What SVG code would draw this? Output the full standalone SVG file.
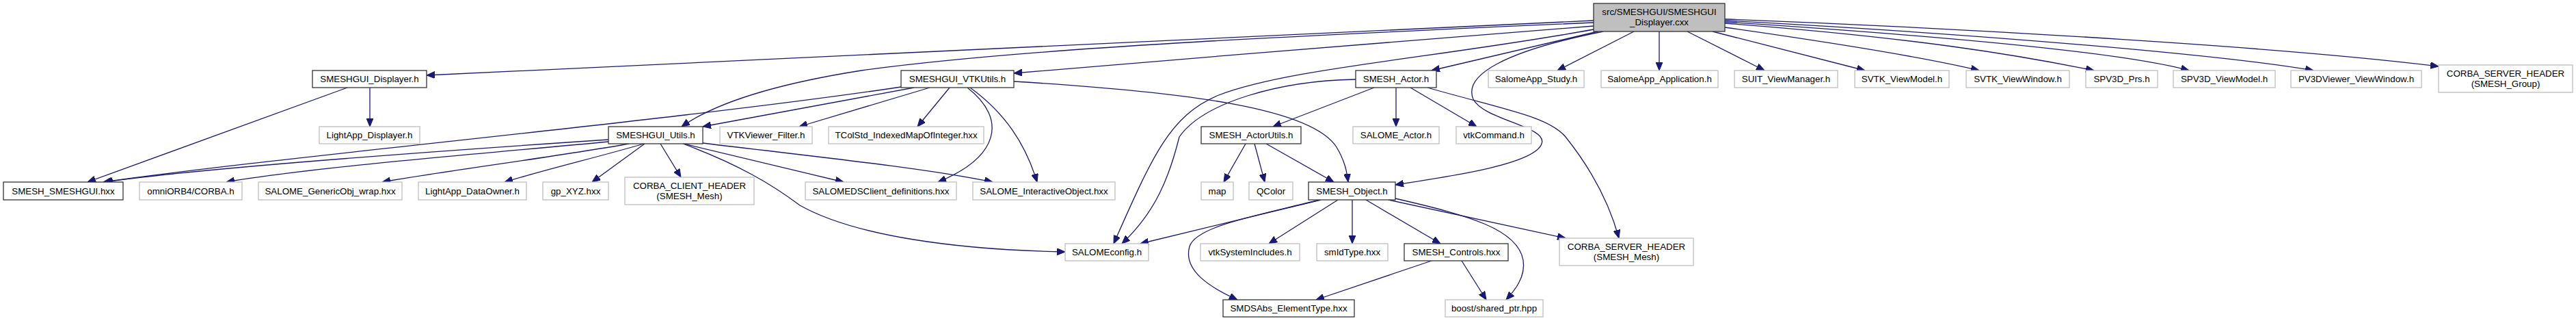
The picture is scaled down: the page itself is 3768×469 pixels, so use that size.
<svg xmlns="http://www.w3.org/2000/svg" width="3768" height="469" viewBox="0 0 3768 469">
<style>
.n rect{fill:#fff;stroke:#bfbfbf;stroke-width:1.3}
.d rect{stroke:#333}
.r rect{fill:#bfbfbf;stroke:#333}
text{font-family:"Liberation Sans",Arial,sans-serif;font-size:13.33px;text-anchor:middle;fill:#000}
#edges path{fill:none;stroke:#191970;stroke-width:1.3;marker-end:url(#a)}
</style>
<defs>
<marker id="a" viewBox="0 0 12 10" refX="12" refY="5" markerWidth="12" markerHeight="10" markerUnits="userSpaceOnUse" orient="auto"><path d="M0,0 L12,5 L0,10 z" fill="#191970" stroke="#191970"/></marker>
</defs>
<rect width="3768" height="469" fill="#fff"/>
<g id="edges">
<path d="M2331,30 L624,110"/>
<path d="M2331,33 C1900,52 1500,70 1260,103 C1120,125 1040,155 997,185"/>
<path d="M2331,38 C2100,55 1750,85 1483,107"/>
<path d="M2331,43 C2100,85 1880,100 1780,140 C1710,170 1685,230 1629,356"/>
<path d="M1983,116 C1870,118 1760,150 1725,200 C1710,260 1690,310 1641,356"/>
<path d="M2337,46 L2094,103"/>
<path d="M2345,46 C2200,75 2140,110 2155,145 C2170,175 2265,185 2255,210 C2245,240 2120,258 2041,270"/>
<path d="M2390,46 L2278,103"/>
<path d="M2427,46 L2427,103"/>
<path d="M2468,46 L2581,103"/>
<path d="M2505,46 L2728,103"/>
<path d="M2523,40 C2700,65 2820,85 2895,103"/>
<path d="M2523,34 C2800,55 2950,80 3063,103"/>
<path d="M2523,32 C2800,50 3100,75 3202,103"/>
<path d="M2523,30 C2900,50 3250,80 3384,103"/>
<path d="M2523,28 C2900,42 3350,70 3567,97"/>
<path d="M541,128 L541,185"/>
<path d="M508,128 L128,266"/>
<path d="M1318,127 C1000,175 400,230 151,266"/>
<path d="M890,204 C650,220 300,245 153,266"/>
<path d="M890,207 C700,225 450,245 331,266"/>
<path d="M920,210 C820,228 650,250 559,266"/>
<path d="M942,210 C880,228 790,250 738,266"/>
<path d="M943,210 L866,266"/>
<path d="M966,210 L996,259"/>
<path d="M999,210 C1080,240 1130,270 1170,300 C1250,345 1400,365 1558,368"/>
<path d="M1000,210 L1234,266"/>
<path d="M1028,209 C1200,230 1350,245 1452,266"/>
<path d="M1337,128 L1028,185"/>
<path d="M1360,128 L1169,185"/>
<path d="M1389,128 L1342,185"/>
<path d="M1415,128 C1475,175 1460,230 1372,266"/>
<path d="M1419,128 C1470,165 1500,210 1517,266"/>
<path d="M1483,119 C1750,135 1920,160 1955,215 C1967,235 1970,250 1972,266"/>
<path d="M2010,128 L1862,185"/>
<path d="M2042,128 L2042,185"/>
<path d="M2063,128 L2160,185"/>
<path d="M2088,128 C2200,160 2265,170 2290,200 C2330,250 2355,300 2368,348"/>
<path d="M1822,210 L1790,266"/>
<path d="M1835,210 L1850,266"/>
<path d="M1852,210 L1951,266"/>
<path d="M1932,292 L1668,356"/>
<path d="M1930,292 C1840,315 1750,330 1740,360 C1730,395 1770,420 1810,438"/>
<path d="M1957,292 L1856,356"/>
<path d="M1978,292 L1978,356"/>
<path d="M1998,292 L2107,356"/>
<path d="M2031,292 L2290,348"/>
<path d="M2041,290 C2150,315 2220,335 2228,380 C2232,405 2215,425 2203,438"/>
<path d="M2094,381 L1925,438"/>
<path d="M2138,381 L2174,438"/>
</g>
<g id="top" class="n r"><rect x="2331" y="5" width="192" height="41"/><text x="2427" y="22">src/SMESHGUI/SMESHGUI</text><text x="2427" y="37">_Displayer.cxx</text></g>
<g id="smeshgui_displayer_h" class="n d"><rect x="457" y="103" width="167" height="25"/><text x="540.5" y="120">SMESHGUI_Displayer.h</text></g>
<g id="smeshgui_vtkutils_h" class="n d"><rect x="1318" y="103" width="165" height="25"/><text x="1400.5" y="120">SMESHGUI_VTKUtils.h</text></g>
<g id="smesh_actor_h" class="n d"><rect x="1983" y="103" width="118" height="25"/><text x="2042" y="120">SMESH_Actor.h</text></g>
<g id="salomeapp_study_h" class="n"><rect x="2177" y="103" width="140" height="25"/><text x="2247" y="120">SalomeApp_Study.h</text></g>
<g id="salomeapp_application_h" class="n"><rect x="2342" y="103" width="171" height="25"/><text x="2427.5" y="120">SalomeApp_Application.h</text></g>
<g id="suit_viewmanager_h" class="n"><rect x="2537" y="103" width="151" height="25"/><text x="2612.5" y="120">SUIT_ViewManager.h</text></g>
<g id="svtk_viewmodel_h" class="n"><rect x="2713" y="103" width="138" height="25"/><text x="2782" y="120">SVTK_ViewModel.h</text></g>
<g id="svtk_viewwindow_h" class="n"><rect x="2876" y="103" width="151" height="25"/><text x="2951.5" y="120">SVTK_ViewWindow.h</text></g>
<g id="spv3d_prs_h" class="n"><rect x="3051" y="103" width="105" height="25"/><text x="3103.5" y="120">SPV3D_Prs.h</text></g>
<g id="spv3d_viewmodel_h" class="n"><rect x="3179" y="103" width="149" height="25"/><text x="3253.5" y="120">SPV3D_ViewModel.h</text></g>
<g id="pv3dviewer_viewwindow_h" class="n"><rect x="3351" y="103" width="191" height="25"/><text x="3446.5" y="120">PV3DViewer_ViewWindow.h</text></g>
<g id="corba_server_group" class="n"><rect x="3567" y="95" width="196" height="40"/><text x="3665" y="111.5">CORBA_SERVER_HEADER</text><text x="3665" y="126.5">(SMESH_Group)</text></g>
<g id="lightapp_displayer_h" class="n"><rect x="467" y="185" width="147" height="25"/><text x="540.5" y="202">LightApp_Displayer.h</text></g>
<g id="smeshgui_utils_h" class="n d"><rect x="890" y="185" width="138" height="25"/><text x="959" y="202">SMESHGUI_Utils.h</text></g>
<g id="vtkviewer_filter_h" class="n"><rect x="1053" y="185" width="135" height="25"/><text x="1120.5" y="202">VTKViewer_Filter.h</text></g>
<g id="tcolstd_indexedmapofinteger_hxx" class="n"><rect x="1212" y="185" width="227" height="25"/><text x="1325.5" y="202">TColStd_IndexedMapOfInteger.hxx</text></g>
<g id="smesh_actorutils_h" class="n d"><rect x="1757" y="185" width="146" height="25"/><text x="1830" y="202">SMESH_ActorUtils.h</text></g>
<g id="salome_actor_h" class="n"><rect x="1979" y="185" width="126" height="25"/><text x="2042" y="202">SALOME_Actor.h</text></g>
<g id="vtkcommand_h" class="n"><rect x="2130" y="185" width="110" height="25"/><text x="2185" y="202">vtkCommand.h</text></g>
<g id="smesh_smeshgui_hxx" class="n d"><rect x="5" y="266" width="175" height="26"/><text x="92.5" y="283.7">SMESH_SMESHGUI.hxx</text></g>
<g id="omniorb4_corba_h" class="n"><rect x="204" y="266" width="150" height="26"/><text x="279" y="283.7">omniORB4/CORBA.h</text></g>
<g id="salome_genericobj_wrap_hxx" class="n"><rect x="378" y="266" width="210" height="26"/><text x="483" y="283.7">SALOME_GenericObj_wrap.hxx</text></g>
<g id="lightapp_dataowner_h" class="n"><rect x="612" y="266" width="158" height="26"/><text x="691" y="283.7">LightApp_DataOwner.h</text></g>
<g id="gp_xyz_hxx" class="n"><rect x="794" y="266" width="96" height="26"/><text x="842" y="283.7">gp_XYZ.hxx</text></g>
<g id="corba_client_mesh" class="n"><rect x="914" y="259" width="189" height="40"/><text x="1008.5" y="275.5">CORBA_CLIENT_HEADER</text><text x="1008.5" y="290.5">(SMESH_Mesh)</text></g>
<g id="salomedsclient_definitions_hxx" class="n"><rect x="1178" y="266" width="221" height="26"/><text x="1288.5" y="283.7">SALOMEDSClient_definitions.hxx</text></g>
<g id="salome_interactiveobject_hxx" class="n"><rect x="1423" y="266" width="208" height="26"/><text x="1527" y="283.7">SALOME_InteractiveObject.hxx</text></g>
<g id="map" class="n"><rect x="1757" y="266" width="47" height="26"/><text x="1780.5" y="283.7">map</text></g>
<g id="qcolor" class="n"><rect x="1827" y="266" width="64" height="26"/><text x="1859" y="283.7">QColor</text></g>
<g id="smesh_object_h" class="n d"><rect x="1914" y="266" width="127" height="26"/><text x="1977.5" y="283.7">SMESH_Object.h</text></g>
<g id="salomeconfig_h" class="n"><rect x="1558" y="356" width="122" height="25"/><text x="1619" y="373">SALOMEconfig.h</text></g>
<g id="vtksystemincludes_h" class="n"><rect x="1756" y="356" width="145" height="25"/><text x="1828.5" y="373">vtkSystemIncludes.h</text></g>
<g id="smidtype_hxx" class="n"><rect x="1926" y="356" width="104" height="25"/><text x="1978" y="373">smIdType.hxx</text></g>
<g id="smesh_controls_hxx" class="n d"><rect x="2054" y="356" width="152" height="25"/><text x="2130" y="373">SMESH_Controls.hxx</text></g>
<g id="corba_server_mesh" class="n"><rect x="2281" y="348" width="196" height="40"/><text x="2379" y="364.5">CORBA_SERVER_HEADER</text><text x="2379" y="379.5">(SMESH_Mesh)</text></g>
<g id="smdsabs_elementtype_hxx" class="n d"><rect x="1789" y="438" width="192" height="25"/><text x="1885" y="455">SMDSAbs_ElementType.hxx</text></g>
<g id="boost_shared_ptr_hpp" class="n"><rect x="2114" y="438" width="143" height="25"/><text x="2185.5" y="455">boost/shared_ptr.hpp</text></g>
</svg>
